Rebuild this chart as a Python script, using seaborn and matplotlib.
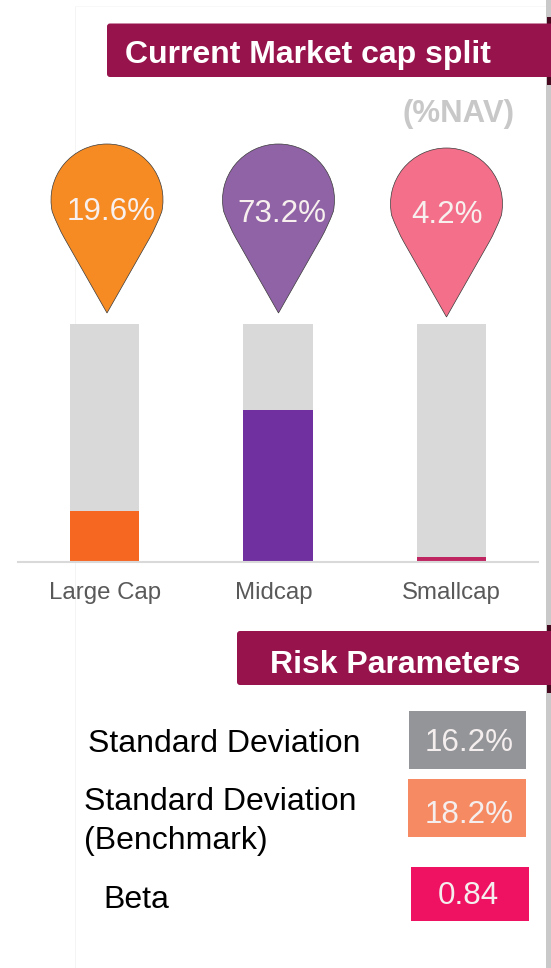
import matplotlib
matplotlib.use("Agg")
import matplotlib.pyplot as plt
import numpy as np
import pandas as pd
import seaborn as sns
from matplotlib.patches import FancyBboxPatch, PathPatch, Rectangle
from matplotlib.path import Path
from matplotlib.transforms import ScaledTranslation

# ---- data ----
categories = ["Large Cap", "Midcap", "Smallcap"]
track_values = [100, 100, 100]
fill_values = [21.4, 63.9, 2.1]
pin_labels = ["19.6%", "73.2%", "4.2%"]
risk_names = ["Standard Deviation", "Standard Deviation\n(Benchmark)", "Beta"]
risk_values = ["16.2%", "18.2%", "0.84"]
title_main = "Current Market cap split"
title_unit = "(%NAV)"
title_risk = "Risk Parameters"

# ---- styles ----
fill_colors = ["#F66722", "#70309F", "#BE2561"]
pin_colors = ["#F68B23", "#8F63A6", "#F36F8A"]
risk_colors = ["#939598", "#F68B63", "#F01262"]
MAROON = "#96134B"
W, H = 551, 968

plt.rcParams["font.family"] = ["Liberation Sans", "DejaVu Sans"]
sns.set_style("white")
plt.rcParams["font.family"] = ["Liberation Sans", "DejaVu Sans"]

fig = plt.figure(figsize=(W / 100, H / 100), dpi=100, facecolor="white")

# overlay in pixel coordinates for the decoration
deco = fig.add_axes([0, 0, 1, 1], zorder=0)
deco.set_xlim(0, W)
deco.set_ylim(H, 0)
deco.axis("off")

# chart axes
ax = fig.add_axes([18 / W, 1 - 562 / H, 520 / W, 238 / H], zorder=1)
ax.patch.set_alpha(0)
df = pd.DataFrame({"cat": categories, "track": track_values, "fill": fill_values})
sns.barplot(data=df, x="cat", y="track", color="#D9D9D9", width=0.4, saturation=1,
            linewidth=0, ax=ax)
sns.barplot(data=df, x="cat", y="fill", hue="cat", palette=fill_colors, width=0.4,
            saturation=1, legend=False, linewidth=0, ax=ax)
ax.set_xlim(-0.5, 2.5)
ax.set_ylim(0, 100)
ax.set_xlabel("")
ax.set_ylabel("")
ax.set_yticks([])
sns.despine(ax=ax, left=True)
ax.spines["bottom"].set_color("#D9D9D9")
ax.spines["bottom"].set_linewidth(1.5)
ax.tick_params(axis="x", length=0, pad=14.7, labelsize=17.3, labelcolor="#595959")
mid = ax.get_xticklabels()[1]
mid.set_transform(mid.get_transform() + ScaledTranslation(-4 / 100, 0, fig.dpi_scale_trans))

# panel edges
deco.add_patch(Rectangle((75, 6), 1, H - 6, color="#F4F4F4", lw=0))
deco.add_patch(Rectangle((75, 6), 471, 1, color="#F8F8F8", lw=0))
deco.add_patch(Rectangle((546, 0), 5, H, color="#C9C9C9", lw=0))


def banner(x0, y0, y1, text, tx, base):
    deco.add_patch(Rectangle((547, y0 - 6.5), 4, y1 - y0 + 14, color="#45081F", lw=0, zorder=2))
    deco.add_patch(FancyBboxPatch((x0 + 3, y0 + 3), W + 10 - x0, y1 - y0 - 6,
                                  boxstyle="round,pad=3,rounding_size=3",
                                  fc=MAROON, ec="none", zorder=3))
    deco.text(tx, base, text, color="white", fontsize=23, fontweight="bold",
              va="baseline", ha="left", zorder=4)


banner(107, 23.5, 77, title_main, 125, 62.5)
banner(237, 631, 685, title_risk, 270, 672.7)
deco.text(515, 122, title_unit, color="#C8C8C8", fontsize=22.4, fontweight="bold",
          ha="right", va="baseline")

# map pins
pin_cx = [107, 278.5, 446.5]
pin_cy = [200, 200, 204]
pin_tip = [313, 313, 317]
pin_tx = [110.7, 282, 447]
pin_base = [220, 221.7, 223]
R = 56
for label, color, cx, cy, tip, tx, base in zip(pin_labels, pin_colors, pin_cx, pin_cy,
                                               pin_tip, pin_tx, pin_base):
    arc = Path.arc(-12, 192)
    top = np.column_stack([cx + R * arc.vertices[:, 0], cy - R * arc.vertices[:, 1]])
    left_blend = [[cx - 49.5, cy + 26], [cx - 42.7, cy + 38]]
    right_blend = [[cx + 49.5, cy + 26], [cx + 42.7, cy + 38]]
    # start on the right tail, run over the head, and return to the tip
    verts = np.vstack([[[cx, tip]], [right_blend[1]], [right_blend[0]], top,
                       left_blend, [[cx, tip], [cx, tip]]])
    # the arc's first vertex is joined by the quadratic curve from the tail
    codes = [Path.MOVETO, Path.LINETO, Path.CURVE3, Path.CURVE3] + list(arc.codes[1:]) + \
            [Path.CURVE3, Path.CURVE3, Path.LINETO, Path.CLOSEPOLY]
    deco.add_patch(PathPatch(Path(verts, codes), fc=color, ec="#3A3A3A", lw=0.5, zorder=2))
    deco.text(tx, base, label, color="#F7F0EE", fontsize=22.6, ha="center", va="baseline", zorder=3)

# risk table
box_x = [409, 408, 411]
box_y = [711, 779, 867]
box_w = [117, 118, 118]
box_h = [58, 58, 54]
val_x = [469.5, 469.5, 468]
val_base = [751, 822.7, 904]
name_x = [88.5, 83.5, 103.5]
name_base = [752, 810, 908]
for name, value, color, bx, by, bw, bh, vx, vb, nx, nb in zip(
        risk_names, risk_values, risk_colors, box_x, box_y, box_w, box_h,
        val_x, val_base, name_x, name_base):
    deco.add_patch(Rectangle((bx, by), bw, bh, color=color, lw=0))
    deco.text(vx, vb, value, color="#F5EEEE", fontsize=22.6, ha="center", va="baseline")
    lines = name.split("\n")
    for i, line in enumerate(lines):
        deco.text(nx, nb + i * 39, line, color="black", fontsize=23, ha="left", va="baseline")

fig.savefig("out.png", dpi=100, facecolor="white")
